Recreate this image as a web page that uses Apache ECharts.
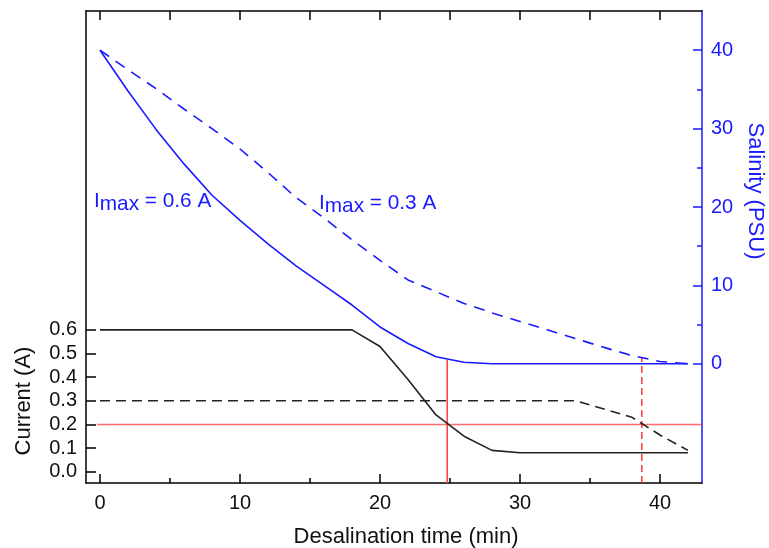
<!DOCTYPE html>
<html>
<head>
<meta charset="utf-8">
<script src="https://cdn.jsdelivr.net/npm/echarts@6/dist/echarts.min.js"></script>
<style>
  html, body { margin: 0; padding: 0; background: #fff; }
  #chart { width: 769px; height: 548px; }
</style>
</head>
<body>
<div id="chart"></div>
<script>
// ---- data ----
const time = [0, 2, 4, 6, 8, 10, 12, 14, 16, 18, 20, 22, 24, 26, 28, 30, 32, 34, 36, 38, 40, 42];
const current06 = [0.6, 0.6, 0.6, 0.6, 0.6, 0.6, 0.6, 0.6, 0.6, 0.6, 0.53, 0.39, 0.24, 0.15, 0.09, 0.08, 0.08, 0.08, 0.08, 0.08, 0.08, 0.08];
const current03 = [0.3, 0.3, 0.3, 0.3, 0.3, 0.3, 0.3, 0.3, 0.3, 0.3, 0.3, 0.3, 0.3, 0.3, 0.3, 0.3, 0.3, 0.3, 0.265, 0.23, 0.155, 0.09];
const salinity06 = [40, 34.8, 29.9, 25.5, 21.5, 18.3, 15.3, 12.5, 10.0, 7.5, 4.7, 2.6, 0.9, 0.2, 0, 0, 0, 0, 0, 0, 0, 0];
const salinity03 = [40, 37.5, 35.1, 32.5, 30.0, 27.4, 24.4, 21.2, 18.6, 15.8, 13.2, 10.7, 9.2, 7.7, 6.5, 5.4, 4.3, 3.2, 2.1, 1.05, 0.3, 0];

const thresholdCurrent = 0.2;
const thresholdStart = -0.2;
const crossTimes = [24.8, 38.7];
const crossSalinity = [0.5, 0.8];

const xLabelValues = [0, 10, 20, 30, 40];
const xMinorTicks = [5, 15, 25, 35];
const xTopTicks = [0, 5, 10, 15, 20, 25, 30, 35, 40];
const currentTicks = [0, 0.1, 0.2, 0.3, 0.4, 0.5, 0.6];
const salinityTicks = [0, 10, 20, 30, 40];
const salinityMinorTicks = [5, 15, 25, 35];

const xMin = -1, xMax = 43;
const curMin = -0.048, curMax = 1.95;
const salMin = -15.2, salMax = 45;

// ---- chart ----
const FONT = '"Liberation Sans", Arial, Helvetica, sans-serif';
const BLUE = '#1a1aff';
const BLACK = '#222222';
const RED = '#ff3a3a';

const zip = (xs, ys) => xs.map((x, i) => [x, ys[i]]);

const chart = echarts.init(document.getElementById('chart'), null, { renderer: 'canvas' });

const frameLine = { show: true, onZero: false, lineStyle: { color: '#000', width: 1.5 } };
const noLine = { show: false, onZero: false };

const annRich = {
  i: { fontSize: 20.8, fontFamily: FONT, lineHeight: 21, verticalAlign: 'top', fill: BLUE },
  s: { fontSize: 20.8, fontFamily: FONT, lineHeight: 21, verticalAlign: 'top', padding: [3, 0, 0, 0], fill: BLUE }
};

const option = {
  animation: false,
  backgroundColor: '#fff',
  textStyle: { fontFamily: FONT },
  grid: { left: 86, right: 67, top: 11, bottom: 65 },
  xAxis: [
    {
      type: 'value', gridIndex: 0, position: 'bottom', min: xMin, max: xMax,
      axisLine: frameLine,
      axisTick: { show: true, inside: true, length: 9, customValues: xLabelValues, lineStyle: { color: '#000', width: 1.5 } },
      axisLabel: { show: true, customValues: xLabelValues, fontSize: 20, color: '#111', margin: 10, fontFamily: FONT },
      splitLine: { show: false }
    },
    {
      type: 'value', gridIndex: 0, position: 'bottom', min: xMin, max: xMax,
      axisLine: noLine,
      axisTick: { show: true, inside: true, length: 5, customValues: xMinorTicks, lineStyle: { color: '#000', width: 1.5 } },
      axisLabel: { show: false },
      splitLine: { show: false }
    },
    {
      type: 'value', gridIndex: 0, position: 'top', min: xMin, max: xMax,
      axisLine: frameLine,
      axisTick: { show: true, inside: true, length: 9, customValues: xTopTicks, lineStyle: { color: '#000', width: 1.5 } },
      axisLabel: { show: false },
      splitLine: { show: false }
    }
  ],
  yAxis: [
    {
      type: 'value', gridIndex: 0, position: 'left', min: curMin, max: curMax,
      axisLine: frameLine,
      axisTick: { show: true, inside: true, length: 10, customValues: currentTicks, lineStyle: { color: '#000', width: 1.5 } },
      axisLabel: { show: true, customValues: currentTicks, fontSize: 20, color: '#111', margin: 9, fontFamily: FONT,
        formatter: v => Number(v).toFixed(1) },
      splitLine: { show: false }
    },
    {
      type: 'value', gridIndex: 0, position: 'right', min: salMin, max: salMax,
      axisLine: { show: true, onZero: false, lineStyle: { color: BLUE, width: 1.5 } },
      axisTick: { show: true, inside: true, length: 9, customValues: salinityTicks, lineStyle: { color: BLUE, width: 1.5 } },
      axisLabel: { show: true, customValues: salinityTicks, fontSize: 20, color: BLUE, margin: 9, fontFamily: FONT },
      splitLine: { show: false }
    },
    {
      type: 'value', gridIndex: 0, position: 'right', min: salMin, max: salMax,
      axisLine: noLine,
      axisTick: { show: true, inside: true, length: 5, customValues: salinityMinorTicks, lineStyle: { color: BLUE, width: 1.5 } },
      axisLabel: { show: false },
      splitLine: { show: false }
    }
  ],
  series: [
    {
      name: 'Threshold current', type: 'line', xAxisIndex: 0, yAxisIndex: 0, symbol: 'none',
      data: [[thresholdStart, thresholdCurrent], [xMax, thresholdCurrent]],
      lineStyle: { color: RED, width: 1.5, opacity: 0.75 }, z: 1
    },
    {
      name: 'Cross 0.6 A', type: 'line', xAxisIndex: 0, yAxisIndex: 1, symbol: 'none',
      data: [[crossTimes[0], salMin], [crossTimes[0], crossSalinity[0]]],
      lineStyle: { color: RED, width: 1.5 }, z: 1
    },
    {
      name: 'Cross 0.3 A', type: 'line', xAxisIndex: 0, yAxisIndex: 1, symbol: 'none',
      data: [[crossTimes[1], salMin], [crossTimes[1], crossSalinity[1]]],
      lineStyle: { color: RED, width: 1.5, type: [7, 4] }, z: 1
    },
    {
      name: 'Current 0.6 A', type: 'line', xAxisIndex: 0, yAxisIndex: 0, symbol: 'none',
      data: zip(time, current06),
      lineStyle: { color: BLACK, width: 1.6 }, z: 2
    },
    {
      name: 'Current 0.3 A', type: 'line', xAxisIndex: 0, yAxisIndex: 0, symbol: 'none',
      data: zip(time, current03),
      lineStyle: { color: BLACK, width: 1.6, type: [10, 6] }, z: 2
    },
    {
      name: 'Salinity 0.6 A', type: 'line', xAxisIndex: 0, yAxisIndex: 1, symbol: 'none',
      data: zip(time, salinity06),
      lineStyle: { color: BLUE, width: 1.6 }, z: 2
    },
    {
      name: 'Salinity 0.3 A', type: 'line', xAxisIndex: 0, yAxisIndex: 1, symbol: 'none',
      data: zip(time, salinity03),
      lineStyle: { color: BLUE, width: 1.6, type: [11, 8] }, z: 2
    }
  ],
  graphic: [
    {
      type: 'text', x: 406, y: 537,
      style: { text: 'Desalination time (min)', font: '22px ' + FONT, fill: '#111', textAlign: 'center', textVerticalAlign: 'middle' }
    },
    {
      type: 'text', x: 24, y: 401, rotation: Math.PI / 2,
      style: { text: 'Current (A)', font: '22px ' + FONT, fill: '#111', textAlign: 'center', textVerticalAlign: 'middle' }
    },
    {
      type: 'text', x: 755, y: 191, rotation: -Math.PI / 2,
      style: { text: 'Salinity (PSU)', font: '22px ' + FONT, fill: BLUE, textAlign: 'center', textVerticalAlign: 'middle' }
    },
    {
      type: 'text', x: 94, y: 191,
      style: { text: '{i|I}{s|max}{i| = 0.6 A}', fill: BLUE, textAlign: 'left', textVerticalAlign: 'top', rich: annRich }
    },
    {
      type: 'text', x: 319, y: 193,
      style: { text: '{i|I}{s|max}{i| = 0.3 A}', fill: BLUE, textAlign: 'left', textVerticalAlign: 'top', rich: annRich }
    }
  ]
};

chart.setOption(option);
</script>
</body>
</html>
